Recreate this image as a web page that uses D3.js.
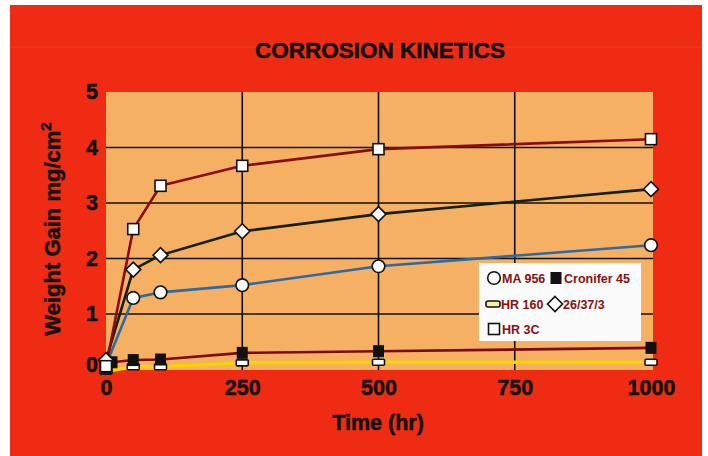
<!DOCTYPE html>
<html><head><meta charset="utf-8">
<script src="https://cdn.jsdelivr.net/npm/d3@7"></script>
<style>body{margin:0;background:#fff}svg{display:block}</style>
</head><body><svg id="c" width="708" height="456"></svg>
<script>
const title = "CORROSION KINETICS";
const xLabel = "Time (hr)";
const xTicks = [0, 250, 500, 750, 1000];
const yTicks = [0, 1, 2, 3, 4, 5];
const maTimes = [0, 50, 100, 250, 500, 1000];
const ma956 = [0.08, 1.29, 1.39, 1.52, 1.86, 2.24];
const cronTimes = [0, 11, 50, 100, 250, 500, 1000];
const cronifer45 = [0.03, 0.13, 0.17, 0.18, 0.30, 0.33, 0.39];
const hr160Times = [0, 50, 100, 250, 500, 1000];
const hr160 = [-0.03, 0.05, 0.05, 0.12, 0.13, 0.13];
const aTimes = [0, 50, 100, 250, 500, 1000];
const alloy26373 = [0.17, 1.80, 2.06, 2.49, 2.80, 3.25];
const hr3cTimes = [0, 50, 100, 250, 500, 1000];
const hr3c = [0.06, 2.53, 3.31, 3.67, 3.97, 4.15];

const svg = d3.select("#c");
const FONT = "Liberation Sans, Arial, sans-serif";
const L = 106, R = 653, T = 92, B = 370;
const x = d3.scaleLinear().domain([0, 1000]).range([106, 651]);
const y = d3.scaleLinear().domain([0, 5]).range([369.5, 92]);

// background
svg.append("rect").attr("x", 10).attr("y", 5).attr("width", 692).attr("height", 451).attr("fill", "#ef2c13");
svg.append("line").attr("x1", 10).attr("x2", 702).attr("y1", 47).attr("y2", 47).attr("stroke", "#f45a40").attr("stroke-width", 1).attr("opacity", 0.4);
svg.append("rect").attr("x", L).attr("y", T).attr("width", R - L).attr("height", B - T).attr("fill", "#f5b064");

function bold(sel, size) {
  return sel.attr("font-family", FONT).attr("font-weight", "bold").attr("font-size", size)
    .attr("fill", "#111").attr("stroke", "#111").attr("stroke-width", 0.5);
}

// title
bold(svg.append("text").attr("x", 380).attr("y", 58).attr("text-anchor", "middle"), 22.5).text(title);

// grid
const g = svg.append("g");
[1, 2, 3, 4].forEach(v => g.append("line").attr("x1", L).attr("x2", R).attr("y1", y(v)).attr("y2", y(v)).attr("stroke", "#111").attr("stroke-width", 1.6));
[250, 500, 750].forEach(v => g.append("line").attr("x1", x(v)).attr("x2", x(v)).attr("y1", T).attr("y2", B).attr("stroke", "#111").attr("stroke-width", 1.6));

// axes
const ax = svg.append("g").attr("transform", `translate(0,${B})`)
  .call(d3.axisBottom(x).tickValues(xTicks).tickSize(0).tickPadding(10).tickFormat(d3.format("d")));
ax.select(".domain").remove();
bold(ax.selectAll("text"), 21.5);
const ay = svg.append("g").attr("transform", `translate(98,0)`)
  .call(d3.axisLeft(y).tickValues(yTicks).tickSize(0).tickPadding(0).tickFormat(d3.format("d")));
ay.select(".domain").remove();
bold(ay.selectAll("text"), 21.5);
ay.selectAll(".tick").filter(d => d === 0).select("text").attr("dy", "0.1em");

bold(svg.append("text").attr("x", 378).attr("y", 430).attr("text-anchor", "middle"), 21.5).text(xLabel);
const yl = bold(svg.append("text").attr("transform", "translate(60,229) rotate(-90)").attr("text-anchor", "middle"), 22);
yl.append("tspan").text("Weight Gain mg/cm");
yl.append("tspan").attr("dy", -9).attr("font-size", 15).text("2");

// series
const series = [
  {t: hr160Times, v: hr160, color: "#f5d400", w: 3.5, m: "rect"},
  {t: cronTimes, v: cronifer45, color: "#7c0a0a", w: 2.6, m: "fsquare"},
  {t: maTimes, v: ma956, color: "#2c6aa6", w: 2.6, m: "circle"},
  {t: aTimes, v: alloy26373, color: "#14200a", w: 2.6, m: "diamond"},
  {t: hr3cTimes, v: hr3c, color: "#8a0c0c", w: 2.6, m: "square"}
];
const line = d3.line().x(d => x(d[0])).y(d => y(d[1]));
series.forEach(s => {
  const pts = s.t.map((t, i) => [t, s.v[i]]);
  svg.append("path").attr("d", line(pts)).attr("fill", "none").attr("stroke", s.color).attr("stroke-width", s.w).attr("stroke-linejoin", "round");
});
function marker(sel, m, cx, cy) {
  if (m === "circle") sel.append("circle").attr("cx", cx).attr("cy", cy).attr("r", 6.3).attr("fill", "#fff").attr("stroke", "#111").attr("stroke-width", 1.6);
  else if (m === "square") sel.append("rect").attr("x", cx - 5.5).attr("y", cy - 5.5).attr("width", 11).attr("height", 11).attr("fill", "#fff").attr("stroke", "#111").attr("stroke-width", 1.6);
  else if (m === "fsquare") sel.append("rect").attr("x", cx - 5.5).attr("y", cy - 6).attr("width", 11).attr("height", 12).attr("fill", "#111");
  else if (m === "rect") sel.append("rect").attr("x", cx - 6).attr("y", cy - 3).attr("width", 12).attr("height", 6).attr("rx", 1).attr("fill", "#fff").attr("stroke", "#111").attr("stroke-width", 1.6);
  else if (m === "diamond") sel.append("path").attr("d", `M${cx},${cy - 7.5}L${cx + 7.5},${cy}L${cx},${cy + 7.5}L${cx - 7.5},${cy}Z`).attr("fill", "#fff").attr("stroke", "#111").attr("stroke-width", 1.6);
}
series.forEach(s => {
  s.t.forEach((t, i) => marker(svg, s.m, x(t), y(s.v[i])));
});

// legend
const lg = svg.append("g");
lg.append("rect").attr("x", 479).attr("y", 263).attr("width", 162).attr("height", 78).attr("fill", "#fbfbfb");
const legendItems = [
  {label: "MA 956", m: "circle", x: 494, y: 278},
  {label: "Cronifer 45", m: "fsquare", x: 556, y: 278},
  {label: "HR 160", m: "rect", x: 493, y: 304},
  {label: "26/37/3", m: "diamond", x: 555, y: 304},
  {label: "HR 3C", m: "square", x: 494, y: 329}
];
legendItems.forEach(d => {
  if (d.m === "rect") {
    lg.append("rect").attr("x", d.x - 7).attr("y", d.y - 3).attr("width", 14).attr("height", 6).attr("rx", 2).attr("fill", "#f4f0a0").attr("stroke", "#111").attr("stroke-width", 1.6);
  } else marker(lg, d.m, d.x, d.y);
  lg.append("text").attr("x", d.x + 8).attr("y", d.y + 5).attr("font-family", FONT)
    .attr("font-weight", "bold").attr("font-size", 12.5).attr("fill", "#8a1010").text(d.label);
});
</script></body></html>
